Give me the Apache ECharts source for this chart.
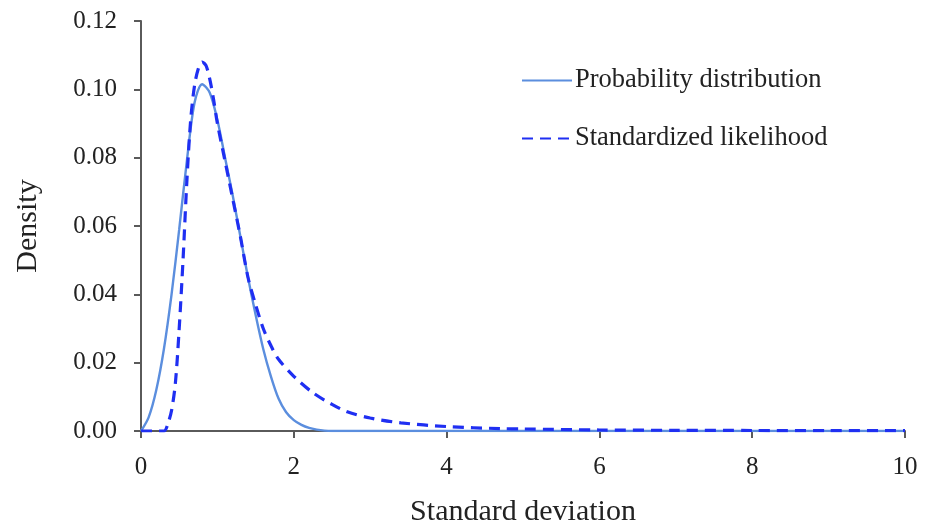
<!DOCTYPE html>
<html>
<head>
<meta charset="utf-8">
<script src="https://cdn.jsdelivr.net/npm/echarts@6/dist/echarts.min.js"></script>
<style>html,body{margin:0;padding:0;background:#fff}#c{width:927px;height:527px}</style>
</head>
<body>
<div id="c"></div>
<script>
// Probability distribution (solid)
var probX = [0, 0.1, 0.2, 0.3, 0.4, 0.5, 0.6, 0.7, 0.8, 0.9, 1.0, 1.1, 1.2, 1.3, 1.4, 1.5, 1.6, 1.7, 1.8, 1.9, 2.0, 2.1, 2.2, 2.3, 2.4, 2.5, 3, 4, 5, 6, 7, 8, 9, 10];
var probY = [0, 0.004, 0.012, 0.024, 0.040, 0.059, 0.079, 0.096, 0.1015, 0.099, 0.091, 0.080, 0.069, 0.057, 0.045, 0.034, 0.024, 0.016, 0.0095, 0.0055, 0.0032, 0.0018, 0.0009, 0.0004, 0.0001, 0, 0, 0, 0, 0, 0, 0, 0, 0];
// Standardized likelihood (dashed)
var likeX = [0, 0.3, 0.35, 0.4, 0.45, 0.5, 0.55, 0.6, 0.65, 0.7, 0.75, 0.8, 0.85, 0.9, 0.95, 1.0, 1.1, 1.2, 1.3, 1.4, 1.5, 1.6, 1.7, 1.8, 2.0, 2.25, 2.5, 2.7, 3.0, 3.4, 4.0, 4.7, 5.0, 6, 7, 8, 9, 10];
var likeY = [0, 0, 0.002, 0.006, 0.014, 0.030, 0.050, 0.073, 0.091, 0.101, 0.106, 0.108, 0.107, 0.103, 0.097, 0.090, 0.079, 0.068, 0.057, 0.045, 0.037, 0.030, 0.025, 0.021, 0.016, 0.0112, 0.0078, 0.0056, 0.0038, 0.0024, 0.0013, 0.0007, 0.0006, 0.0003, 0.0002, 0.00015, 0.0001, 0.0001];
var seriesNames = ['Probability distribution', 'Standardized likelihood'];
var xTicks = [0, 2, 4, 6, 8, 10];
var yTicks = [0, 0.02, 0.04, 0.06, 0.08, 0.10, 0.12];

function pairs(xs, ys) { return xs.map(function (x, i) { return [x, ys[i]]; }); }

var font = '"Liberation Serif", "Times New Roman", serif';
var axisCol = '#5a5a5a';
var txtCol = '#222';
var chart = echarts.init(document.getElementById('c'));
chart.setOption({
  animation: false,
  backgroundColor: '#fff',
  textStyle: { fontFamily: font },
  grid: { left: 141, right: 22, top: 21, bottom: 96, containLabel: false, outerBoundsMode: 'none' },
  legend: {
    orient: 'vertical', left: 521, top: 67, padding: 0, itemGap: 31, itemWidth: 50, itemHeight: 14,
    itemStyle: { opacity: 0 },
    textStyle: { fontFamily: font, fontSize: 26.5, color: txtCol, padding: [0, 0, 0, -2] },
    data: seriesNames
  },
  xAxis: {
    type: 'value', min: xTicks[0], max: xTicks[xTicks.length - 1], interval: 2,
    name: 'Standard deviation', nameLocation: 'middle', nameGap: 66,
    nameTextStyle: { fontFamily: font, fontSize: 30, color: txtCol },
    axisLine: { show: true, lineStyle: { color: axisCol, width: 2 } },
    axisTick: { show: true, length: 7, lineStyle: { color: axisCol, width: 2 } },
    axisLabel: { fontFamily: font, fontSize: 25, color: txtCol, margin: 24 },
    splitLine: { show: false }
  },
  yAxis: {
    type: 'value', min: yTicks[0], max: yTicks[yTicks.length - 1], interval: 0.02,
    name: 'Density', nameLocation: 'middle', nameGap: 98, nameRotate: 90,
    nameTextStyle: { fontFamily: font, fontSize: 30, color: txtCol },
    axisLine: { show: true, lineStyle: { color: axisCol, width: 2 } },
    axisTick: { show: true, length: 7, lineStyle: { color: axisCol, width: 2 } },
    axisLabel: { fontFamily: font, fontSize: 25, color: txtCol, margin: 24, padding: [5, 0, 0, 0], formatter: function (v) { return v.toFixed(2); } },
    splitLine: { show: false }
  },
  series: [
    {
      name: seriesNames[0], type: 'line', data: pairs(probX, probY), showSymbol: false, symbol: 'none',
      smooth: 0.3,
      lineStyle: { color: '#5b8ede', width: 2.4 }, itemStyle: { color: '#5b8ede' }, z: 3
    },
    {
      name: seriesNames[1], type: 'line', data: pairs(likeX, likeY), showSymbol: false, symbol: 'none',
      smooth: 0.3,
      lineStyle: { color: '#1f2ff2', width: 3.2, type: [11, 7] }, itemStyle: { color: '#1f2ff2' }, z: 4
    }
  ]
});
</script>
</body>
</html>
